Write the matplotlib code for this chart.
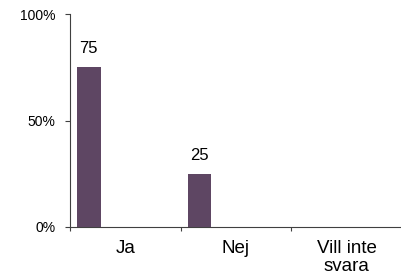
import matplotlib
matplotlib.use("Agg")
import matplotlib.pyplot as plt
import numpy as np

# data
categories = ["Ja", "Nej", "Vill inte\nsvara"]
values = [75, 25, 0]
yticks = [0, 50, 100]
ytick_labels = ["0%", "50%", "100%"]

BAR_COL = "#5E4663"
AXIS_COL = "#404040"

plt.rcParams["font.family"] = ["Liberation Sans", "DejaVu Sans"]

fig = plt.figure(figsize=(4.02, 2.79), dpi=100)
W, H = 402, 279
ax = fig.add_axes([70 / W, 52 / H, 332 / W, 213 / H])

cat_px = 113.0
x = np.arange(len(categories))
bars = ax.bar(x + 0.062, values, width=0.215, align="edge", color=BAR_COL, zorder=3)

for b, v in zip(bars, values):
    if v > 0:
        ax.text(b.get_x() + b.get_width() / 2, v + 6.5, f"{v}",
                ha="center", va="baseline", fontsize=12, color="#000000")

ax.set_xlim(0, 332 / cat_px)
ax.set_ylim(0, 100)

ax.set_yticks(yticks)
ax.set_yticklabels(ytick_labels, fontsize=10)
ax.tick_params(axis="y", direction="out", length=3.6, width=0.8, color=AXIS_COL, pad=7)

ax.set_xticks([0, 1, 2, 3])
ax.set_xticklabels([])
ax.tick_params(axis="x", which="major", direction="out", length=3, width=0.8, color=AXIS_COL)
ax.set_xticks(x + 0.5, minor=True)
ax.set_xticklabels(categories, minor=True, fontsize=13.5, linespacing=1.1)
ax.tick_params(axis="x", which="minor", length=0, pad=9.5)

for s in ["top", "right"]:
    ax.spines[s].set_visible(False)
for s in ["left", "bottom"]:
    ax.spines[s].set_color(AXIS_COL)
    ax.spines[s].set_linewidth(0.8)

fig.savefig("out.png", dpi=100, facecolor="white")
